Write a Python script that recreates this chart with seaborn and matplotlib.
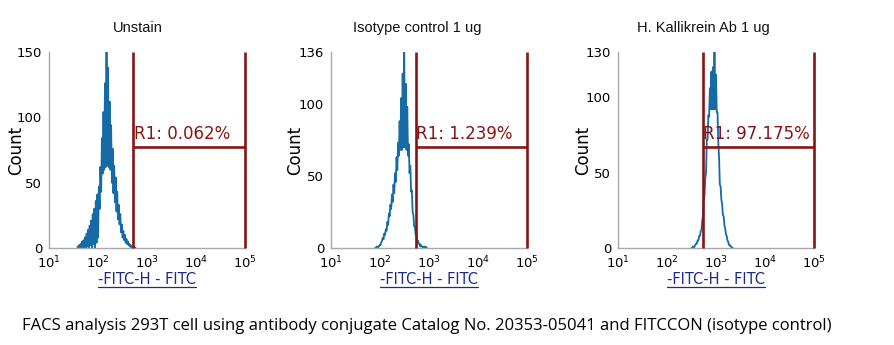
import numpy as np
import pandas as pd
import matplotlib
matplotlib.use("Agg")
import matplotlib.pyplot as plt
from matplotlib.ticker import FixedLocator, MultipleLocator, LogLocator, NullFormatter
import seaborn as sns

# ---- data -------------------------------------------------------------
titles = ["Unstain", "Isotype control 1 ug", "H. Kallikrein Ab 1 ug"]
gate_labels = ["R1: 0.062%", "R1: 1.239%", "R1: 97.175%"]
y_max = [150, 136, 130]
gate_low = [525, 537, 537]          # left edge of the R1 marker (FITC units)
gate_high = [1e5, 1e5, 1e5]         # right edge of the R1 marker
gate_level = [77.5, 70, 67]          # height of the R1 bar (counts)

# histogram channels: 64 channels per decade, first channel given as log10 value
channels_per_decade = 64
first_channel_log = [1.58, 1.90, 2.50]

counts_unstain = [1, 0, 2, 0, 3, 0, 5, 0, 6, 0, 8, 0, 11, 1, 14, 0, 17, 2, 21, 0,
                  26, 3, 30, 0, 36, 4, 41, 8, 47, 30, 62, 43, 84, 57, 104, 60, 126, 62, 150, 63,
                  138, 62, 112, 60, 94, 50, 76, 42, 63, 35, 54, 28, 43, 22, 33, 18, 26, 12, 18, 8,
                  13, 6, 10, 4, 7, 3, 5, 2, 3, 1, 2, 0, 1, 0, 1, 0, 0]
counts_isotype = [0, 0, 1, 0, 1, 1, 2, 2, 4, 5, 7, 6, 10, 9, 13, 12, 18, 16, 24, 22,
                  30, 27, 37, 32, 44, 38, 52, 46, 63, 54, 73, 64, 88, 68, 104, 68, 121, 70, 136, 70,
                  114, 68, 98, 64, 72, 52, 57, 39, 40, 25, 23, 15, 15, 9, 9, 5, 5, 3, 3, 1,
                  2, 1, 1, 0, 1, 0, 1, 0, 0]
counts_kallikrein = [0, 0, 1, 0, 1, 2, 3, 3, 5, 5, 8, 8, 11, 12, 18, 22, 32, 35, 46, 50,
                     72, 72, 88, 87, 106, 92, 117, 92, 120, 92, 130, 92, 115, 90, 90, 70, 60, 42, 41, 32,
                     29, 22, 21, 15, 13, 9, 8, 5, 4, 2, 2, 1, 1, 0, 0]
all_counts = [counts_unstain, counts_isotype, counts_kallikrein]

x_label = "-FITC-H - FITC"
caption = ("FACS analysis 293T cell using antibody conjugate Catalog No. 20353-05041 "
           "and FITCCON (isotype control)")

# ---- style ------------------------------------------------------------
sns.set_style("white")
plt.rcParams["font.family"] = ["DejaVu Sans"]
plt.rcParams["text.color"] = "black"

HIST_BLUE = "#166aa6"
GATE_RED = "#861515"
AXIS_GRAY = "#a8a8a8"
LABEL_NAVY = "#1c2a8a"

W, H, DPI = 894, 345, 100
fig = plt.figure(figsize=(W / DPI, H / DPI), dpi=DPI)

ax_left_px = [49, 331, 618]
ax_w_px, ax_h_px = 196, 196
ax_bottom_px = 248
title_x_px = [138, 417, 703]
ylabel_x_px = [25, 304, 592]

axes = []
for k in range(3):
    ax = fig.add_axes([ax_left_px[k] / W, 1 - ax_bottom_px / H, ax_w_px / W, ax_h_px / H])
    axes.append(ax)

    counts = all_counts[k]
    logs = first_channel_log[k] + np.arange(len(counts)) / channels_per_decade
    df = pd.DataFrame({"fitc": 10 ** logs, "count": counts})
    sns.lineplot(data=df, x="fitc", y="count", ax=ax, color=HIST_BLUE,
                 linewidth=1.3, estimator=None, sort=True, legend=False)

    ax.set_xscale("log")
    ax.set_xlim(10, 1e5)
    ax.set_ylim(0, y_max[k])

    # R1 marker
    ax.plot([gate_low[k], gate_low[k]], [0, y_max[k]], color=GATE_RED, lw=1.9,
            solid_capstyle="butt", clip_on=False, zorder=3)
    ax.plot([gate_high[k], gate_high[k]], [0, y_max[k]], color=GATE_RED, lw=1.9,
            solid_capstyle="butt", clip_on=False, zorder=3)
    ax.plot([gate_low[k], gate_high[k]], [gate_level[k], gate_level[k]], color=GATE_RED,
            lw=1.9, solid_capstyle="butt", clip_on=False, zorder=3)
    ax.annotate(gate_labels[k], xy=(gate_low[k], gate_level[k]), xytext=(0.5, 3.0),
                textcoords="offset points", ha="left", va="bottom",
                color=GATE_RED, fontsize=12, zorder=4)

    # axes frame and ticks
    for side in ("top", "right"):
        ax.spines[side].set_visible(False)
    for side in ("left", "bottom"):
        ax.spines[side].set_color(AXIS_GRAY)
        ax.spines[side].set_linewidth(1.0)
    ax.yaxis.set_major_locator(FixedLocator([0, 50, 100, y_max[k]]))
    ax.yaxis.set_minor_locator(MultipleLocator(10))
    ax.xaxis.set_major_locator(FixedLocator([10, 100, 1000, 1e4, 1e5]))
    ax.xaxis.set_minor_locator(LogLocator(base=10, subs=np.arange(2, 10), numticks=20))
    ax.xaxis.set_minor_formatter(NullFormatter())
    ax.set_xticklabels([r"$\mathregular{10^{%d}}$" % e for e in range(1, 6)])
    ax.tick_params(axis="both", which="major", direction="out", length=3.5, width=0.8,
                   color=AXIS_GRAY, labelsize=9.5, labelcolor="black", pad=1.5)
    ax.tick_params(axis="both", which="minor", direction="out", length=2, width=0.6,
                   color=AXIS_GRAY)
    ax.set_xlabel("")
    ax.set_ylabel("Count", fontsize=12, color="black")
    ax.yaxis.set_label_coords((ylabel_x_px[k] - ax_left_px[k]) / ax_w_px, 0.5)

    fig.text(title_x_px[k] / W, 1 - 28 / H, titles[k], ha="center", va="center",
             fontsize=10.5, color="#111111",
             family=["Liberation Sans Narrow", "Liberation Sans"])

# underlined axis captions below each histogram
renderer = fig.canvas.get_renderer()
for k, ax in enumerate(axes):
    cx = (ax_left_px[k] + ax_w_px / 2) / W
    t = fig.text(cx, 1 - 279 / H, x_label, ha="center", va="center",
                 fontsize=10.5, color=LABEL_NAVY)
    bb = t.get_window_extent(renderer)
    y_line = (bb.y0 - 0.5) / H
    fig.add_artist(plt.Line2D([bb.x0 / W, bb.x1 / W], [y_line, y_line],
                              color=LABEL_NAVY, lw=0.9))

# caption, sized to span its line
cap = fig.text(427 / W, 1 - 326 / H, caption, ha="center", va="center",
               fontsize=11, color="black", family=["Open Sans", "DejaVu Sans"])
target_width = 811
cap.set_fontsize(11 * target_width / cap.get_window_extent(renderer).width)

fig.savefig("out.png", dpi=DPI, facecolor="white")
